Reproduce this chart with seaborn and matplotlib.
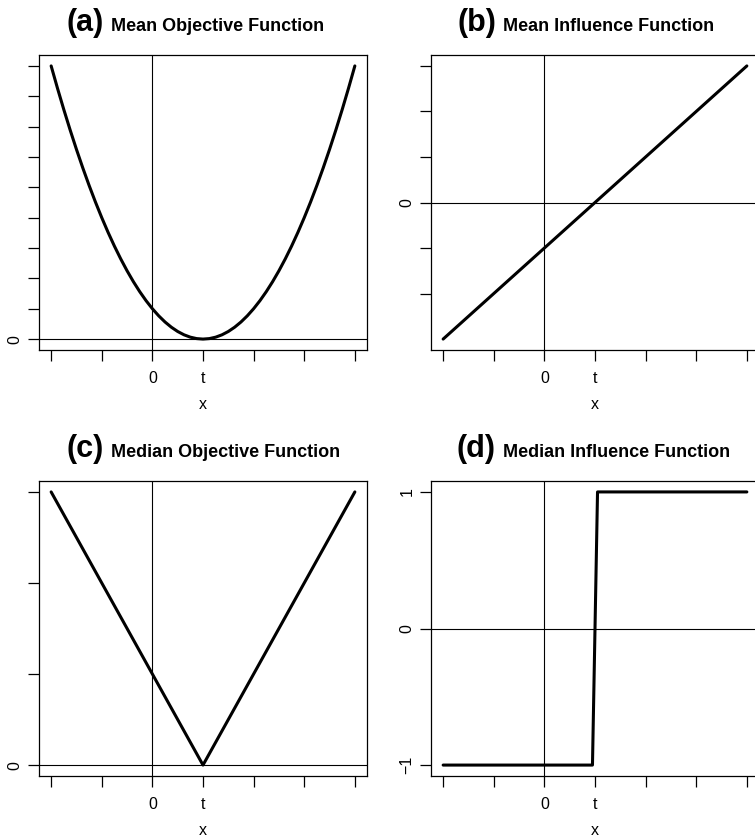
import matplotlib
matplotlib.use("Agg")
import matplotlib.pyplot as plt
import seaborn as sns

sns.set_style("ticks")
plt.rcParams['font.family'] = ['Liberation Sans', 'DejaVu Sans']
plt.rcParams['text.color'] = 'black'
plt.rcParams['axes.labelcolor'] = 'black'

W, H = 755, 838

# x grid shared by all panels (t = 1)
x_ticks = [-2, -1, 0, 1, 2, 3, 4]
x_ticklabels = ["", "", "0", "t", "", "", ""]

# (a) mean objective function (x - t)^2
mean_obj_x = [-2, -1.875, -1.75, -1.625, -1.5, -1.375, -1.25, -1.125,
              -1, -0.875, -0.75, -0.625, -0.5, -0.375, -0.25, -0.125,
              0, 0.125, 0.25, 0.375, 0.5, 0.625, 0.75, 0.875,
              1, 1.125, 1.25, 1.375, 1.5, 1.625, 1.75, 1.875,
              2, 2.125, 2.25, 2.375, 2.5, 2.625, 2.75, 2.875,
              3, 3.125, 3.25, 3.375, 3.5, 3.625, 3.75, 3.875, 4]
mean_obj_y = [9, 8.265625, 7.5625, 6.890625, 6.25, 5.640625, 5.0625, 4.515625,
              4, 3.515625, 3.0625, 2.640625, 2.25, 1.890625, 1.5625, 1.265625,
              1, 0.765625, 0.5625, 0.390625, 0.25, 0.140625, 0.0625, 0.015625,
              0, 0.015625, 0.0625, 0.140625, 0.25, 0.390625, 0.5625, 0.765625,
              1, 1.265625, 1.5625, 1.890625, 2.25, 2.640625, 3.0625, 3.515625,
              4, 4.515625, 5.0625, 5.640625, 6.25, 6.890625, 7.5625, 8.265625, 9]
mean_obj_yticks = [0, 1, 2, 3, 4, 5, 6, 7, 8, 9]
mean_obj_ylabels = ["0", "", "", "", "", "", "", "", "", ""]

# (b) mean influence function (x - t)
mean_inf_x = [-2, 4]
mean_inf_y = [-3, 3]
mean_inf_yticks = [-2, -1, 0, 1, 2, 3]
mean_inf_ylabels = ["", "", "0", "", "", ""]

# (c) median objective function |x - t|
med_obj_x = [-2, 1, 4]
med_obj_y = [3, 0, 3]
med_obj_yticks = [0, 1, 2, 3]
med_obj_ylabels = ["0", "", "", ""]

# (d) median influence function sign(x - t)
med_inf_x = [-2, 0.95, 1.05, 4]
med_inf_y = [-1, -1, 1, 1]
med_inf_yticks = [-1, 0, 1]
med_inf_ylabels = ["\u22121", "0", "1"]

panels = [
    ("(a)", "Mean Objective Function", mean_obj_x, mean_obj_y, mean_obj_yticks, mean_obj_ylabels, (39, 55)),
    ("(b)", "Mean Influence Function", mean_inf_x, mean_inf_y, mean_inf_yticks, mean_inf_ylabels, (431, 55)),
    ("(c)", "Median Objective Function", med_obj_x, med_obj_y, med_obj_yticks, med_obj_ylabels, (39, 481)),
    ("(d)", "Median Influence Function", med_inf_x, med_inf_y, med_inf_yticks, med_inf_ylabels, (431, 481)),
]

fig = plt.figure(figsize=(W / 100, H / 100), dpi=100)
box_w, box_h = 328, 295

for tag, name, xs, ys, yt, yl, (left, top) in panels:
    ax = fig.add_axes([left / W, 1 - (top + box_h) / H, box_w / W, box_h / H])
    sns.lineplot(x=xs, y=ys, ax=ax, color="black", lw=2.2, sort=False)
    ax.axvline(0, color="black", lw=0.8)
    ax.axhline(0, color="black", lw=0.8)

    xr = max(xs) - min(xs)
    yr = max(ys) - min(ys)
    ax.set_xlim(min(xs) - 0.04 * xr, max(xs) + 0.04 * xr)
    ax.set_ylim(min(ys) - 0.04 * yr, max(ys) + 0.04 * yr)

    ax.set_xticks(x_ticks)
    ax.set_xticklabels(x_ticklabels)
    ax.set_yticks(yt)
    ax.set_yticklabels(yl, rotation=90, va="center")
    ax.tick_params(length=8, width=0.9, color="black", labelsize=11.5, labelcolor="black")
    ax.tick_params(axis="x", pad=7)
    ax.tick_params(axis="y", pad=4)
    ax.set_xlabel("x", fontsize=11.5, labelpad=8)
    for sp in ax.spines.values():
        sp.set_visible(True)
        sp.set_color("black")
        sp.set_linewidth(0.9)

    # title: big bold tag followed by smaller bold name
    split = left + 68
    base = 1 - (top - 24) / H
    fig.text((split - 3) / W, base, tag, ha="right", va="baseline",
             fontsize=22, fontweight="bold", color="black")
    fig.text((split + 4) / W, base, name, ha="left", va="baseline",
             fontsize=13, fontweight="bold", color="black")

fig.savefig("out.png", dpi=100)
